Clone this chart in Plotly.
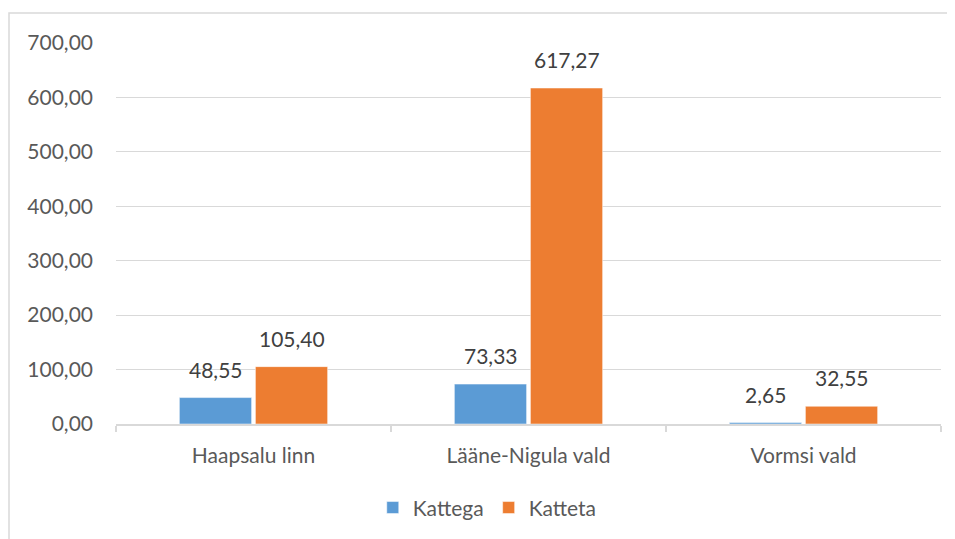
import plotly.graph_objects as go

categories = ["Haapsalu linn", "Lääne-Nigula vald", "Vormsi vald"]
kattega = [48.55, 73.33, 2.65]
katteta = [105.40, 617.27, 32.55]
series_names = ["Kattega", "Katteta"]
colors = ["#5B9BD5", "#ED7D31"]

FONT = "Lato"

def fmt(v):
    return f"{v:.2f}".replace(".", ",")

fig = go.Figure()
for name, vals, col in zip(series_names, [kattega, katteta], colors):
    fig.add_trace(go.Bar(
        x=categories, y=vals, name=name,
        marker=dict(color=col, line=dict(color="white", width=0.5)),
    ))

annotations = []
for vals, shift in [(kattega, -38), (katteta, 38)]:
    for c, v in zip(categories, vals):
        annotations.append(dict(
            x=c, y=v, xref="x", yref="y", text=fmt(v), showarrow=False,
            xshift=shift, yshift=14, yanchor="bottom",
            font=dict(family=FONT, size=21, color="#404040"),
        ))

fig.update_layout(
    width=947, height=531,
    margin=dict(l=108, r=14, t=35, b=114),
    paper_bgcolor="white", plot_bgcolor="white",
    separators=", ",
    barmode="group", bargap=0.447, bargroupgap=0.05,
    font=dict(family=FONT, size=21, color="#595959"),
    annotations=annotations,
    legend=dict(orientation="h", x=0.45, xanchor="center", y=-0.217, yanchor="middle",
                font=dict(family=FONT, size=21, color="#595959"),
                itemwidth=30, traceorder="normal"),
    shapes=[dict(type="rect", xref="paper", yref="paper",
                 x0=-0.1297, x1=1.2, y0=-0.5, y1=1.0785,
                 line=dict(color="#d9d9d9", width=1.5), layer="below")],
)
fig.update_yaxes(range=[0, 700], dtick=100, tickformat=".2f",
                 showgrid=True, gridcolor="#d9d9d9", gridwidth=1,
                 zeroline=False, showline=False, ticks="",
                 ticklabelstandoff=22)
fig.update_xaxes(showline=True, linecolor="#d9d9d9", linewidth=1.5,
                 ticks="outside", tickson="boundaries", ticklen=6,
                 tickcolor="#d9d9d9", tickwidth=1.5,
                 ticklabelstandoff=12)

fig.write_html("out.html")
